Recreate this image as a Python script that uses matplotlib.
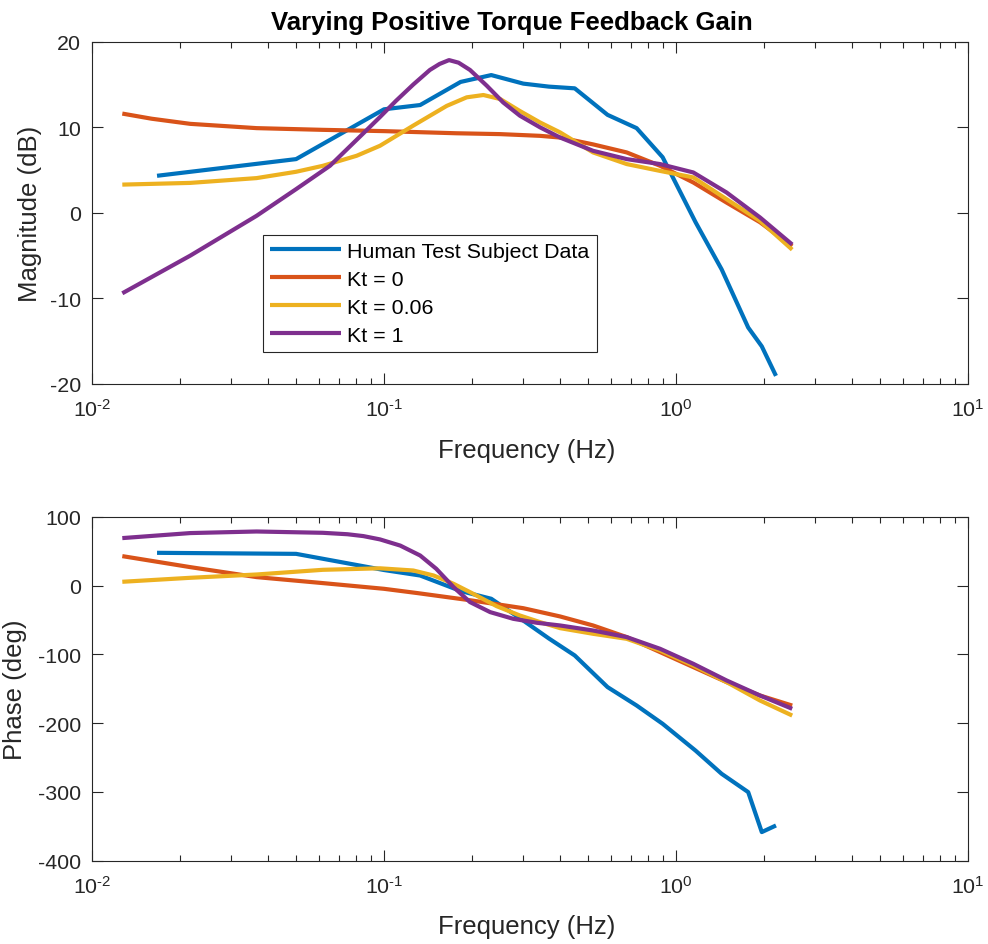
import matplotlib
matplotlib.use("Agg")
import matplotlib.pyplot as plt
from matplotlib.ticker import LogLocator, FixedLocator, FuncFormatter
import math

plt.rcParams['font.family'] = ['Liberation Sans', 'DejaVu Sans']
plt.rcParams['mathtext.fontset'] = 'custom'
plt.rcParams['mathtext.rm'] = 'Liberation Sans'
plt.rcParams['mathtext.it'] = 'Liberation Sans:italic'
plt.rcParams['mathtext.bf'] = 'Liberation Sans:bold'
plt.rcParams['axes.unicode_minus'] = False

# ---- Data ----
title = "Varying Positive Torque Feedback Gain"
labels = ["Human Test Subject Data", "Kt = 0", "Kt = 0.06", "Kt = 1"]
colors = ["#0072BD", "#D95319", "#EDB120", "#7E2F8E"]

# Human test subject data
f_human = [0.0167, 0.05, 0.1, 0.133, 0.183, 0.233, 0.3, 0.367, 0.45, 0.583,
           0.733, 0.9, 1.167, 1.433, 1.767, 1.967, 2.2]
mag_human = [4.33, 6.28, 12.1, 12.6, 15.3, 16.1, 15.1, 14.75, 14.55, 11.45,
             9.9, 6.5, -1.1, -6.6, -13.4, -15.6, -19.05]
ph_human = [47.5, 46.0, 22.5, 14.5, -8.0, -19.3, -51.0, -77.0, -101.7, -147.7,
            -174.4, -201.0, -240.0, -273.7, -300.3, -358.4, -348.8]

# Kt = 0 model
f_k0_mag = [0.0127, 0.016, 0.0217, 0.0366, 0.0617, 0.1, 0.177, 0.25, 0.342, 0.401,
            0.52, 0.678, 0.882, 1.146, 1.49, 1.94, 2.5]
mag_k0 = [11.6, 11.0, 10.4, 9.9, 9.7, 9.55, 9.3, 9.2, 9.0, 8.8,
          8.0, 7.06, 5.5, 3.55, 1.2, -1.1, -3.9]
f_k0_ph = [0.0127, 0.0217, 0.0366, 0.0617, 0.1, 0.13, 0.2, 0.3, 0.401, 0.52,
           0.678, 0.882, 1.146, 1.49, 1.94, 2.5]
ph_k0 = [42.7, 26.7, 12.2, 3.5, -4.8, -11.0, -21.8, -33.0, -45.0, -58.1,
         -75.0, -96.8, -118.6, -140.4, -159.9, -174.5]

# Kt = 0.06 model
f_k006_mag = [0.0127, 0.0217, 0.0366, 0.05, 0.0618, 0.0806, 0.0969, 0.126, 0.164, 0.192,
              0.219, 0.25, 0.292, 0.342, 0.401, 0.52, 0.678, 0.882, 1.146, 1.49, 1.94, 2.5]
mag_k006 = [3.3, 3.5, 4.06, 4.8, 5.5, 6.67, 7.84, 10.2, 12.5, 13.5,
            13.77, 13.3, 11.9, 10.57, 9.4, 7.06, 5.7, 4.9, 4.14, 1.6, -0.94, -4.3]
f_k006_ph = [0.0127, 0.0217, 0.0366, 0.0617, 0.0969, 0.126, 0.148, 0.173, 0.202, 0.243,
             0.292, 0.342, 0.401, 0.52, 0.678, 0.882, 1.146, 1.49, 1.94, 2.5]
ph_k006 = [5.4, 11.2, 16.0, 22.8, 25.0, 21.8, 14.5, 2.5, -12.0, -30.0,
           -43.6, -53.2, -62.0, -70.2, -77.5, -94.5, -116.3, -140.4, -167.2, -189.0]

# Kt = 1 model
f_k1_mag = [0.0127, 0.0217, 0.0366, 0.05, 0.0653, 0.085, 0.0969, 0.110, 0.126, 0.1436,
            0.155, 0.167, 0.18, 0.197, 0.225, 0.256, 0.292, 0.342, 0.401, 0.52, 0.678,
            0.882, 1.146, 1.49, 1.94, 2.5]
mag_k1 = [-9.4, -5.0, -0.35, 2.77, 5.5, 9.3, 11.2, 13.1, 15.0, 16.7,
          17.4, 17.85, 17.55, 16.7, 14.85, 12.9, 11.35, 10.0, 8.8, 7.25, 6.28,
          5.7, 4.72, 2.38, -0.54, -3.7]
f_k1_ph = [0.0127, 0.0217, 0.0366, 0.0617, 0.075, 0.085, 0.0969, 0.1137, 0.133, 0.151, 0.173,
           0.197, 0.231, 0.277, 0.334, 0.401, 0.52, 0.678, 0.882, 1.146, 1.49, 1.94, 2.5]
ph_k1 = [68.9, 76.2, 78.5, 76.6, 74.5, 71.8, 67.0, 58.0, 43.6, 24.3, -2.3,
         -24.1, -38.7, -48.4, -54.2, -58.1, -65.4, -75.0, -92.0, -113.8, -138.0, -159.9, -179.2]

mag_series = [(f_human, mag_human), (f_k0_mag, mag_k0), (f_k006_mag, mag_k006), (f_k1_mag, mag_k1)]
ph_series = [(f_human, ph_human), (f_k0_ph, ph_k0), (f_k006_ph, ph_k006), (f_k1_ph, ph_k1)]

# ---- Figure ----
W, H = 988, 945
fig = plt.figure(figsize=(W / 100, H / 100), dpi=100)
ax1 = fig.add_axes([92 / W, 1 - 385 / H, 876 / W, 342.3 / H])
ax2 = fig.add_axes([92 / W, 1 - 861.7 / H, 876 / W, 344 / H])

axis_color = "#262626"
lw = 3.0


def log_fmt(v, pos):
    e = int(round(math.log10(v)))
    if e < 0:
        return r'$\mathregular{10^{\text{-}%d}}$' % (-e)
    return r'$\mathregular{10^{%d}}$' % e


for ax in (ax1, ax2):
    ax.set_xscale('log')
    ax.set_xlim(1e-2, 1e1)
    ax.xaxis.set_major_locator(LogLocator(base=10, numticks=10))
    ax.xaxis.set_minor_locator(LogLocator(base=10, subs=range(2, 10), numticks=20))
    ax.xaxis.set_major_formatter(FuncFormatter(log_fmt))
    ax.tick_params(which='both', direction='in', top=True, right=True,
                   colors=axis_color, labelcolor=axis_color, labelsize=15.4)
    ax.tick_params(which='major', length=8, width=0.8, pad=8)
    ax.tick_params(axis='x', which='major', pad=10)
    ax.tick_params(which='minor', length=4, width=0.8)
    ax.tick_params(axis='y', which='minor', left=False, right=False)
    for s in ax.spines.values():
        s.set_color(axis_color)
        s.set_linewidth(0.8)
    ax.set_xlabel("Frequency (Hz)", fontsize=18.5, color=axis_color)

lines = []
for (f, v), c, lab in zip(mag_series, colors, labels):
    l, = ax1.plot(f, v, color=c, lw=lw, label=lab, solid_joinstyle='round', solid_capstyle='butt')
    lines.append(l)
for (f, v), c in zip(ph_series, colors):
    ax2.plot(f, v, color=c, lw=lw, solid_joinstyle='round', solid_capstyle='butt')

ax1.set_ylim(-20, 20)
ax1.yaxis.set_major_locator(FixedLocator([-20, -10, 0, 10, 20]))
ax2.set_ylim(-400, 100)
ax2.yaxis.set_major_locator(FixedLocator([-400, -300, -200, -100, 0, 100]))

ax1.set_ylabel("Magnitude (dB)", fontsize=18.5, color=axis_color)
ax2.set_ylabel("Phase (deg)", fontsize=18.5, color=axis_color)
ax1.xaxis.set_label_coords(0.496, -0.159)
ax2.xaxis.set_label_coords(0.496, -0.156)
ax1.yaxis.set_label_coords(-0.057, 0.5)
ax2.yaxis.set_label_coords(-0.074, 0.5)
ax1.set_title(title, fontsize=18.5, fontweight='bold', color='black', x=0.479, pad=9)

leg = ax1.legend(handles=lines, loc='lower left', bbox_to_anchor=(0.1955, 0.0944),
                 fontsize=15.4, frameon=True, fancybox=False, framealpha=1,
                 edgecolor=axis_color, handlelength=3.3, handletextpad=0.3,
                 labelspacing=0.42, borderpad=0.33, borderaxespad=0)
leg.get_frame().set_linewidth(0.8)
for t in leg.get_texts():
    t.set_color('black')

fig.savefig("out.png", dpi=100)
